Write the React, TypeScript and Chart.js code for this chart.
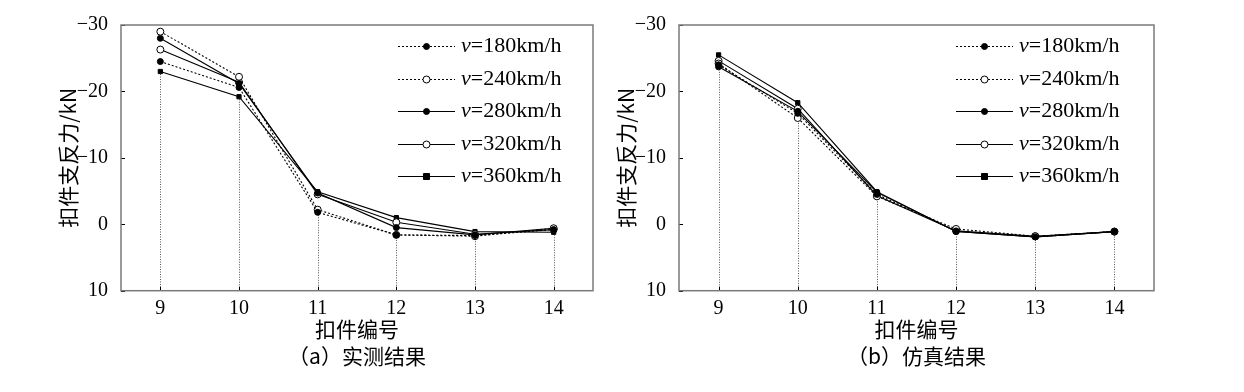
import React, { useEffect, useRef } from 'react';
import { Chart, registerables } from 'chart.js';

Chart.register(...registerables);

// ---- data ----
const categories = ['9', '10', '11', '12', '13', '14'];
const speedLabels = ['v=180km/h', 'v=240km/h', 'v=280km/h', 'v=320km/h', 'v=360km/h'];

// (a) measured
const measured180 = [-24.5, -20.6, -1.8, 1.6, 1.7, 0.8];
const measured240 = [-29.0, -22.2, -2.2, 1.6, 1.8, 0.6];
const measured280 = [-28.0, -21.2, -4.7, 0.5, 1.6, 0.6];
const measured320 = [-26.3, -21.4, -4.5, -0.3, 1.5, 0.8];
const measured360 = [-23.0, -19.2, -4.9, -1.0, 1.1, 1.2];

// (b) simulated
const simulated180 = [-24.0, -16.7, -4.5, 1.0, 1.9, 1.1];
const simulated240 = [-24.2, -16.0, -4.2, 0.7, 1.8, 1.1];
const simulated280 = [-23.7, -17.0, -4.8, 1.1, 1.9, 1.1];
const simulated320 = [-24.6, -17.4, -4.3, 1.0, 1.8, 1.1];
const simulated360 = [-25.5, -18.3, -4.9, 1.1, 1.9, 1.1];

const yMin = -30;
const yMax = 10;
const yStep = 10;

const xTitle = '扣件编号';
const yTitle = '扣件支反力/kN';
const captionA = '（a）实测结果';
const captionB = '（b）仿真结果';

// ---- styles ----
const FONT = "'Liberation Serif', 'Noto Sans CJK SC', serif";
const CJK = "'Noto Sans CJK SC', 'Liberation Serif', sans-serif";
const seriesDash = [[2, 2], [2, 2], [], [], []];
const seriesPoint = ['circle', 'circle', 'circle', 'circle', 'rect'];
const seriesFill = ['#000', '#fff', '#000', '#fff', '#000'];
const seriesRadius = [3, 3.5, 3, 3.5, 3];

const framePlugin = {
  id: 'frameAndTicks',
  beforeDatasetsDraw(chart: any) {
    const { ctx, chartArea: a, scales } = chart;
    const n = chart.data.labels.length;
    ctx.save();
    ctx.strokeStyle = '#555';
    ctx.lineWidth = 1;
    ctx.setLineDash([1, 1.5]);
    for (let i = 0; i < n; i++) {
      let maxV = -Infinity;
      chart.data.datasets.forEach((ds: any) => {
        if (ds.data[i] > maxV) maxV = ds.data[i];
      });
      const x = Math.round(scales.x.getPixelForValue(i)) + 0.5;
      const y = scales.y.getPixelForValue(maxV);
      ctx.beginPath();
      ctx.moveTo(x, y);
      ctx.lineTo(x, a.bottom);
      ctx.stroke();
    }
    ctx.restore();
  },
  afterDraw(chart: any) {
    const { ctx, chartArea: a, scales } = chart;
    ctx.save();
    ctx.strokeStyle = '#000';
    ctx.lineWidth = 1;
    ctx.setLineDash([]);
    scales.y.ticks.forEach((t: any) => {
      const y = Math.round(scales.y.getPixelForValue(t.value)) + 0.5;
      ctx.beginPath();
      ctx.moveTo(a.left, y);
      ctx.lineTo(a.left + 4, y);
      ctx.stroke();
    });
    scales.x.ticks.forEach((t: any, i: number) => {
      const x = Math.round(scales.x.getPixelForValue(i)) + 0.5;
      ctx.beginPath();
      ctx.moveTo(x, a.bottom);
      ctx.lineTo(x, a.bottom - 4);
      ctx.stroke();
    });
    ctx.strokeStyle = '#7a7a7a';
    ctx.lineWidth = 1.5;
    ctx.strokeRect(a.left, a.top, a.right - a.left, a.bottom - a.top);
    ctx.restore();
  },
};

const legendPlugin = {
  id: 'lineLegend',
  afterDraw(chart: any) {
    const { ctx, chartArea: a } = chart;
    ctx.save();
    chart.data.datasets.forEach((ds: any, i: number) => {
      const y = Math.round(a.top + 21 + i * 32.5) + 0.5;
      const x0 = a.left + 277;
      const x1 = a.left + 334;
      const xm = (x0 + x1) / 2;
      ctx.strokeStyle = '#000';
      ctx.lineWidth = 1;
      ctx.setLineDash(ds.borderDash || []);
      ctx.beginPath();
      ctx.moveTo(x0, y);
      ctx.lineTo(x1, y);
      ctx.stroke();
      ctx.setLineDash([]);
      ctx.fillStyle = ds.pointBackgroundColor;
      const r = ds.pointRadius;
      ctx.beginPath();
      if (ds.pointStyle === 'rect') {
        ctx.rect(xm - r, y - r, 2 * r, 2 * r);
      } else {
        ctx.arc(xm, y, r, 0, Math.PI * 2);
      }
      ctx.fill();
      ctx.stroke();
      const label: string = ds.label;
      ctx.fillStyle = '#000';
      ctx.textBaseline = 'middle';
      ctx.textAlign = 'left';
      ctx.font = `italic 22px ${FONT}`;
      const first = label.slice(0, 1);
      ctx.fillText(first, a.left + 340, y);
      const w = ctx.measureText(first).width;
      ctx.font = `22px ${FONT}`;
      ctx.fillText(label.slice(1), a.left + 340 + w, y);
    });
    ctx.restore();
  },
};

function Panel(props: { series: number[][]; caption: string; left: number; width: number; padRight: number }) {
  const ref = useRef<HTMLCanvasElement>(null);
  useEffect(() => {
    if (!ref.current) return;
    const chart = new Chart(ref.current, {
      type: 'line',
      data: {
        labels: categories,
        datasets: props.series.map((d, i) => ({
          label: speedLabels[i],
          data: d,
          borderColor: '#000',
          borderWidth: 1.1,
          borderDash: seriesDash[i],
          pointStyle: seriesPoint[i] as any,
          pointRadius: seriesRadius[i],
          pointBackgroundColor: seriesFill[i],
          pointBorderColor: '#000',
          pointBorderWidth: 1,
          fill: false,
          tension: 0,
        })),
      },
      options: {
        responsive: false,
        animation: false,
        layout: { padding: { left: 0, right: props.padRight, top: 25, bottom: 0 } },
        plugins: {
          legend: { display: false },
          tooltip: { enabled: false },
        },
        scales: {
          x: {
            type: 'category',
            offset: true,
            afterFit: (s: any) => {
              s.height = 101.3;
            },
            grid: { display: false },
            border: { display: false },
            ticks: { color: '#000', padding: 0, font: { family: FONT, size: 20, lineHeight: 1 } },
            title: {
              display: true,
              text: [xTitle, props.caption],
              color: '#000',
              font: { family: CJK, size: 21, lineHeight: 27 / 21 },
              padding: { top: 0, bottom: 22 },
            },
          },
          y: {
            type: 'linear',
            min: yMin,
            max: yMax,
            reverse: true,
            afterFit: (s: any) => {
              s.width = 121;
            },
            grid: { display: false },
            border: { display: false },
            ticks: {
              stepSize: yStep,
              color: '#000',
              padding: 5,
              font: { family: FONT, size: 20 },
              callback: (v: any) => (v < 0 ? '\u2212' + Math.abs(v) : String(v)),
            },
            title: {
              display: true,
              text: yTitle,
              color: '#000',
              font: { family: CJK, size: 21, lineHeight: 1.2 },
              padding: { top: 55, bottom: 0 },
            },
          },
        },
      },
      plugins: [framePlugin, legendPlugin],
    } as any);
    return () => chart.destroy();
  }, []);
  return (
    <canvas
      ref={ref}
      width={props.width}
      height={392}
      style={{ position: 'absolute', left: props.left, top: 0, width: props.width, height: 392 }}
    />
  );
}

export default function App() {
  return (
    <div style={{ position: 'fixed', left: 0, top: 0, width: 1244, height: 392, background: '#fff', overflow: 'hidden' }}>
      <Panel
        series={[measured180, measured240, measured280, measured320, measured360]}
        caption={captionA}
        left={0}
        width={622}
        padRight={29}
      />
      <Panel
        series={[simulated180, simulated240, simulated280, simulated320, simulated360]}
        caption={captionB}
        left={558}
        width={686}
        padRight={90}
      />
    </div>
  );
}
